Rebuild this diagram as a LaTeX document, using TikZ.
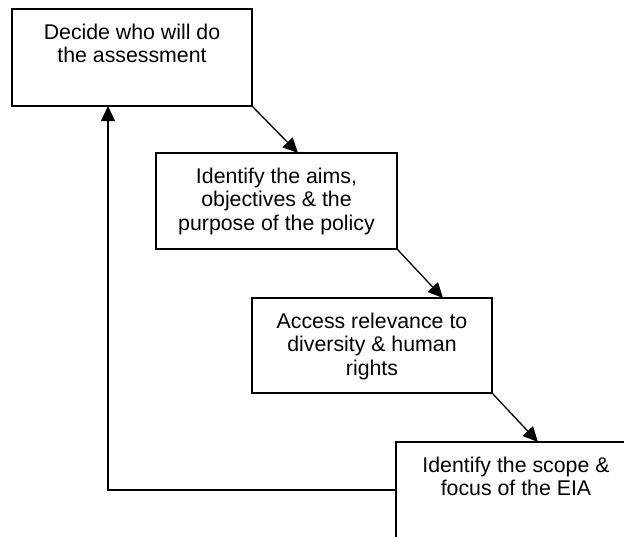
\documentclass[tikz,border=0pt]{standalone}
\usepackage{fontspec}
\setmainfont{Liberation Sans}
\usetikzlibrary{arrows.meta}
\newcommand{\boxtxt}[3]{\parbox[c][#2][t]{#1}{\centering\fontsize{21.3}{23.5}\selectfont\vspace*{15pt}#3}}
\tikzset{
  stepbox/.style={draw=black, line width=1.3pt, inner sep=0pt, outer sep=0pt, anchor=north west, fill=white},
  flow/.style={line width=1.3pt, -{Triangle[length=15pt,width=14pt]}}
}
\begin{document}
\begin{tikzpicture}[x=1pt,y=-1pt]
\clip (0,0) rectangle (624,536);
\fill[white] (0,0) rectangle (624,536);
\node[stepbox] (b1) at (12,9) {\boxtxt{240pt}{97pt}{Decide who will do\\the assessment}};
\node[stepbox] (b2) at (156,153) {\boxtxt{241pt}{96pt}{Identify the aims,\\objectives \& the\\purpose of the policy}};
\node[stepbox] (b3) at (252,298) {\boxtxt{240pt}{95pt}{Access relevance to\\diversity \& human\\rights}};
\node[stepbox] (b4) at (396,442) {\boxtxt{240pt}{96pt}{Identify the scope \&\\focus of the EIA}};
\draw[flow] (b1.south east) -- ([xshift=142pt]b2.north west);
\draw[flow] (b2.south east) -- ([xshift=191pt]b3.north west);
\draw[flow] (b3.south east) -- ([xshift=142pt]b4.north west);
\draw[flow] (b4.west) -| ([xshift=96pt]b1.south west);
\end{tikzpicture}
\end{document}
